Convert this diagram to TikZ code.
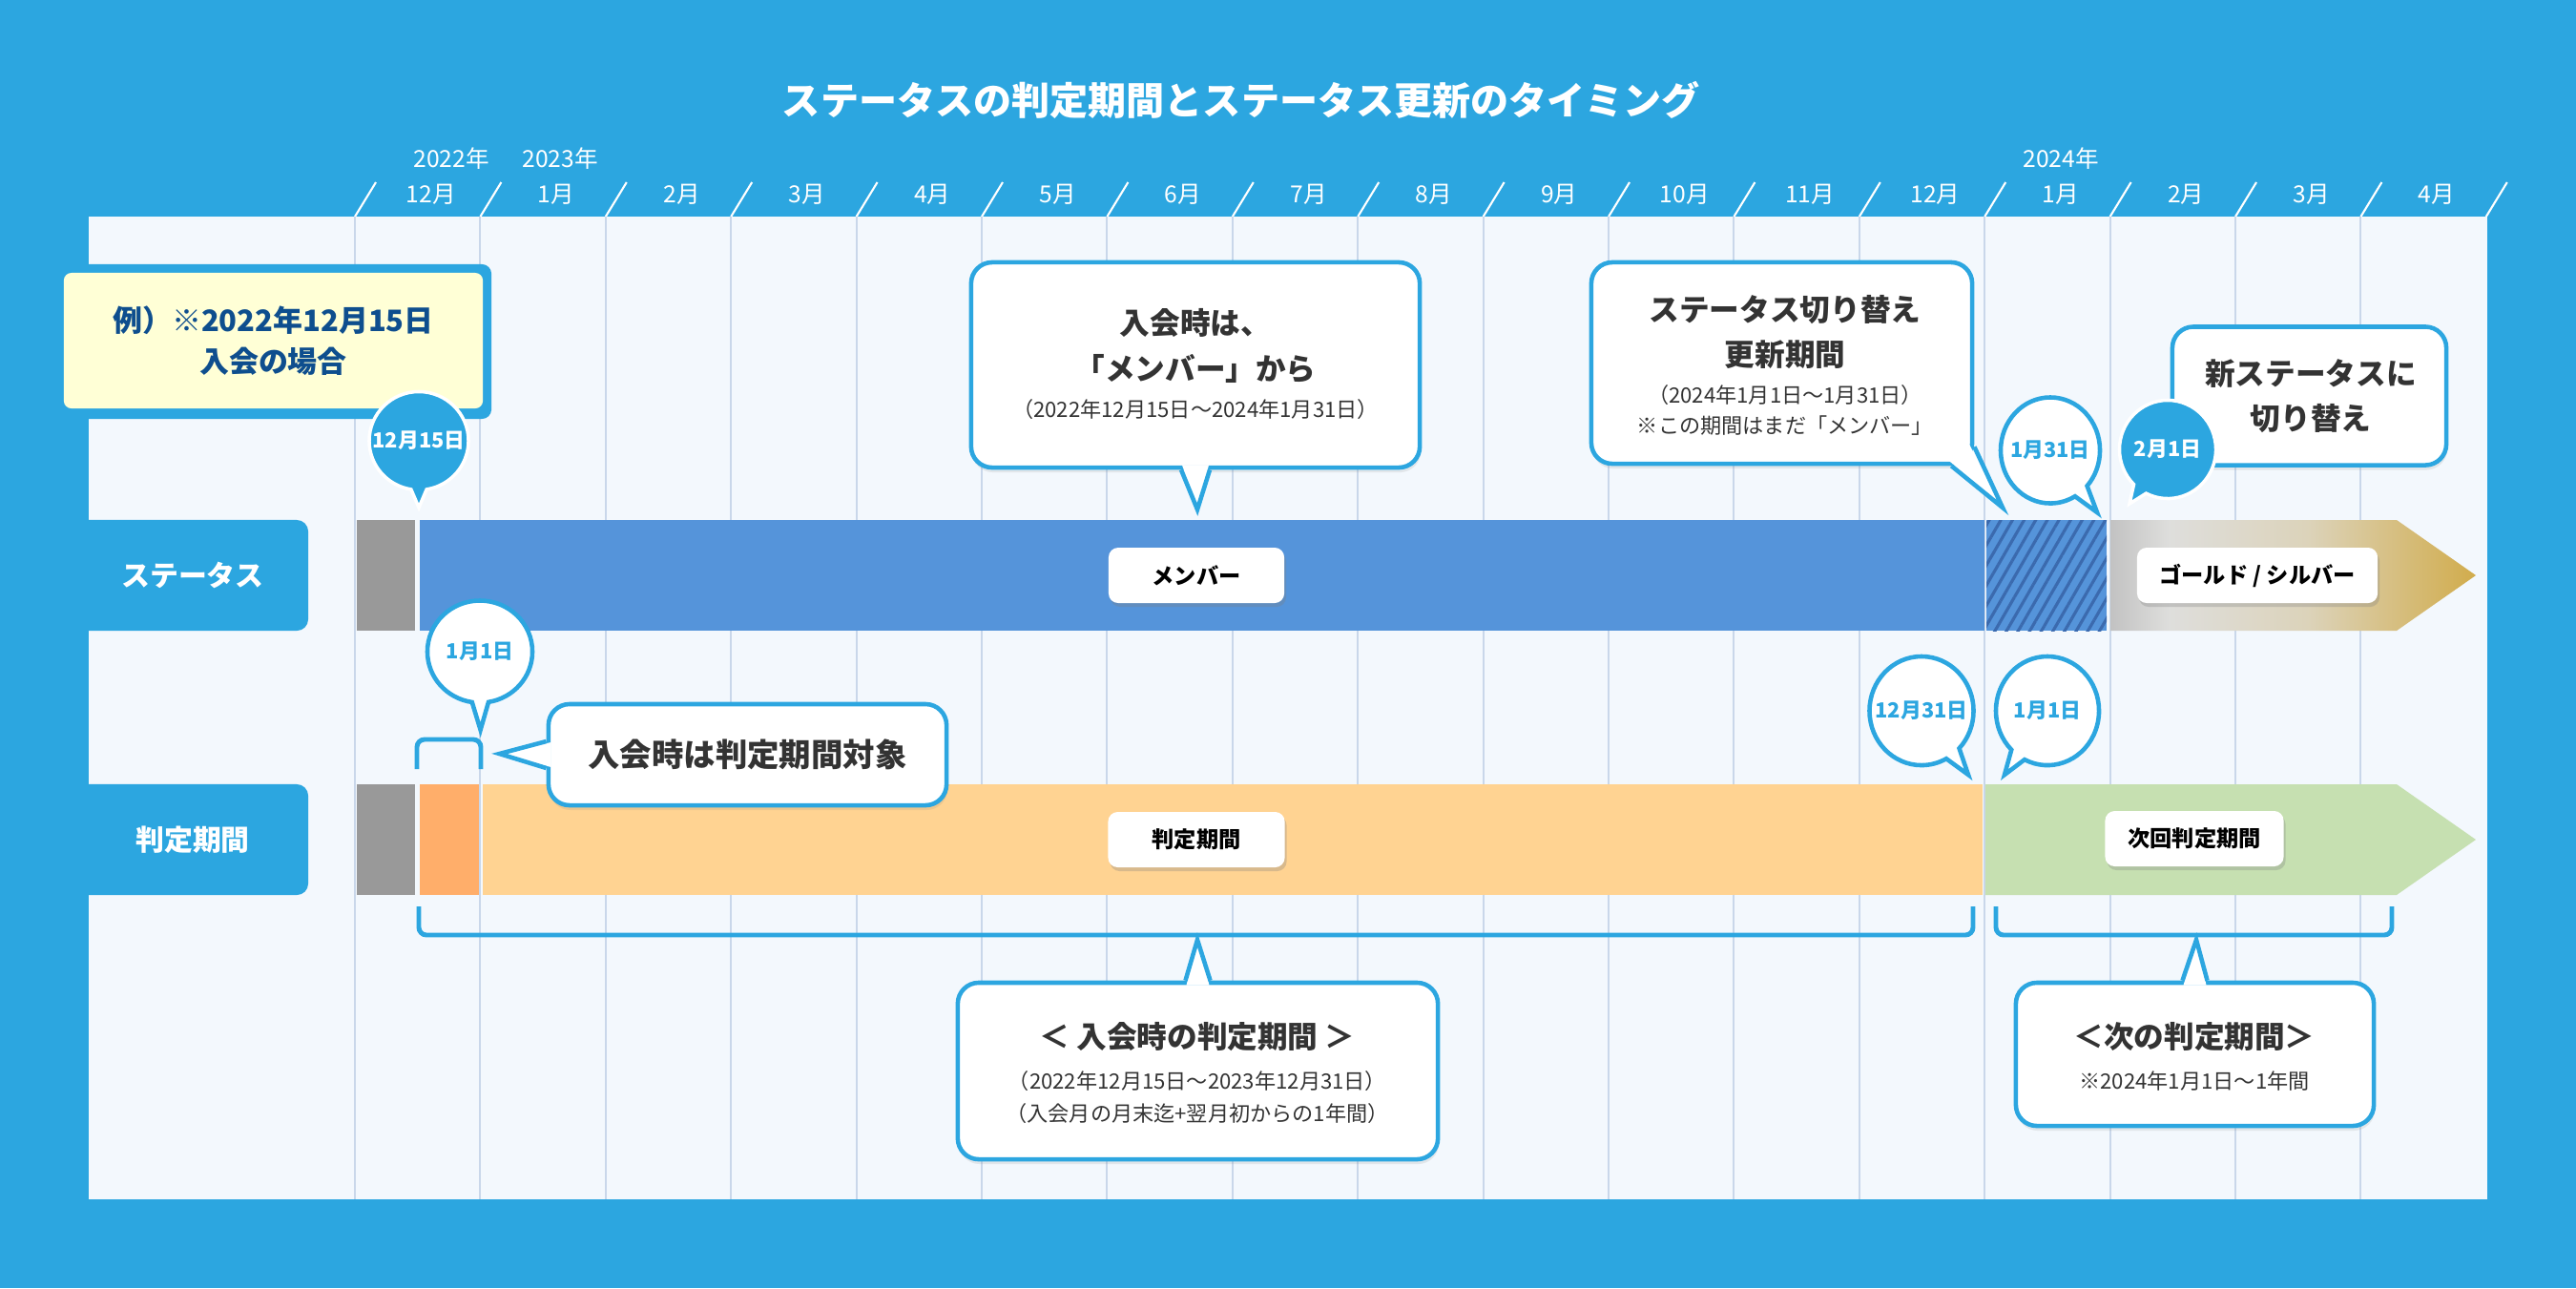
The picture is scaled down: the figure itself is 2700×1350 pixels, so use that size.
\documentclass[tikz,border=0pt]{standalone}
\usepackage{fontspec}
\setmainfont{Noto Sans CJK JP}
\usetikzlibrary{shapes.callouts,shadows,patterns.meta}

\definecolor{bgblue}{HTML}{2CA6E0}
\definecolor{panelbg}{HTML}{F3F8FD}
\definecolor{gridc}{HTML}{C9D7EA}
\definecolor{graybar}{HTML}{999999}
\definecolor{memblue}{HTML}{5594DA}
\definecolor{hatchc}{HTML}{3B6AAE}
\definecolor{orng}{HTML}{FFAE6A}
\definecolor{lorng}{HTML}{FFD392}
\definecolor{lgreen}{HTML}{C6E0B1}
\definecolor{txtdark}{HTML}{333333}
\definecolor{exyellow}{HTML}{FFFFD6}
\definecolor{exblue}{HTML}{0E4E8E}
\definecolor{gsila}{HTML}{C2C2C2}
\definecolor{gsilb}{HTML}{DEDEDC}
\definecolor{gsilc}{HTML}{DCD3BA}
\definecolor{ggold}{HTML}{D1AC4C}

\pgfdeclarehorizontalshading{goldsilver}{100bp}{color(0bp)=(gsila); color(25bp)=(gsila); color(33bp)=(gsilb); color(52bp)=(gsilc); color(75bp)=(ggold); color(100bp)=(ggold)}

\tikzset{
  gridline/.style={gridc, line width=0.6pt},
  slash/.style={white, line width=0.6pt},
  ttl/.style={text=white, font=\bfseries\fontsize{11.4}{13}\selectfont, inner sep=0pt},
  monlbl/.style={text=white, font=\fontsize{7}{8}\selectfont, inner sep=0pt},
  tab/.style={fill=bgblue, rounded corners=0.12cm, text=white, font=\bfseries\fontsize{8.5}{10}\selectfont, minimum width=2.42cm, minimum height=1.16cm},
  barlbl/.style={fill=white, rounded corners=0.1cm, font=\bfseries\fontsize{6.6}{8}\selectfont, text=black, minimum height=0.58cm, drop shadow={shadow xshift=0.02cm, shadow yshift=-0.04cm, opacity=0.3}},
  callbox/.style={fill=white, draw=bgblue, line width=1.3pt, rounded corners=0.22cm, drop shadow={shadow xshift=0.01cm, shadow yshift=-0.05cm, opacity=0.15}},
  tailline/.style={draw=bgblue, line width=1.3pt},
  bigtxt/.style={text=txtdark, font=\bfseries\fontsize{9}{13.4}\selectfont, align=center, inner sep=0pt},
  smalltxt/.style={text=txtdark, font=\fontsize{6.3}{9.2}\selectfont, align=center, inner sep=0pt},
  pinfull/.style={ellipse callout, fill=bgblue, draw=white, line width=1pt, text=white, font=\bfseries\fontsize{6.2}{7}\selectfont, inner xsep=-0.2cm, inner ysep=0pt, callout pointer arc=18},
  pinline/.style={ellipse callout, fill=white, draw=bgblue, line width=1.3pt, text=bgblue, font=\bfseries\fontsize{6.2}{7}\selectfont, inner xsep=-0.2cm, inner ysep=0pt, callout pointer arc=18},
  brace/.style={bgblue, line width=1.4pt, rounded corners=0.08cm},
}

\begin{document}
\begin{tikzpicture}[x=0.01cm, y=-0.01cm]
    \useasboundingbox (0,0) rectangle (2700,1350);
    \fill[bgblue] (0,0) rectangle (2700,1350);
    \fill[panelbg] (93,227) rectangle (2607,1257);

    \foreach \k in {0,...,17} {
        \pgfmathsetmacro{\gx}{372+131.4*\k}
        \draw[slash] (\gx,227) -- (\gx+22,191);
    }
    \foreach \k in {0,...,16} {
        \pgfmathsetmacro{\gx}{372+131.4*\k}
        \draw[gridline] (\gx,227) -- (\gx,1257);
    }

    \node (title) at (1301,105) [ttl] {ステータスの判定期間とステータス更新のタイミング};

    \node (y2022) at (473,166) [monlbl] {2022年};
    \node (y2023) at (587,166) [monlbl] {2023年};
    \node (y2024) at (2160,166) [monlbl] {2024年};

    \node (mdec22) at (451.7,204) [monlbl] {12月};
    \node (mjan23) at (583.1,204) [monlbl] {1月};
    \node (mfeb23) at (714.5,204) [monlbl] {2月};
    \node (mmar23) at (845.9,204) [monlbl] {3月};
    \node (mapr23) at (977.3,204) [monlbl] {4月};
    \node (mmay23) at (1108.7,204) [monlbl] {5月};
    \node (mjun23) at (1240.1,204) [monlbl] {6月};
    \node (mjul23) at (1371.5,204) [monlbl] {7月};
    \node (maug23) at (1502.9,204) [monlbl] {8月};
    \node (msep23) at (1634.3,204) [monlbl] {9月};
    \node (moct23) at (1765.7,204) [monlbl] {10月};
    \node (mnov23) at (1897.1,204) [monlbl] {11月};
    \node (mdec23) at (2028.5,204) [monlbl] {12月};
    \node (mjan24) at (2159.9,204) [monlbl] {1月};
    \node (mfeb24) at (2291.3,204) [monlbl] {2月};
    \node (mmar24) at (2422.7,204) [monlbl] {3月};
    \node (mapr24) at (2554.1,204) [monlbl] {4月};

    \fill[graybar] (374,545) rectangle (435,661);
    \fill[memblue] (440,545) rectangle (2080,661);
    \fill[memblue] (2082,545) rectangle (2208,661);
    \fill[pattern={Lines[angle=60,distance=3pt,line width=0.9pt]}, pattern color=hatchc] (2082,545) rectangle (2208,661);
    \shade[shading=goldsilver] (2212,545) -- (2512,545) -- (2595,603) -- (2512,661) -- (2212,661) -- cycle;

    \fill[graybar] (374,822) rectangle (435,938);
    \fill[orng] (440,822) rectangle (502,938);
    \fill[lorng] (506,822) rectangle (2078,938);
    \fill[lgreen] (2081,822) -- (2512,822) -- (2595,880) -- (2512,938) -- (2081,938) -- cycle;

    \node (lblMember) at (1254,603) [barlbl, minimum width=1.84cm] {メンバー};
    \node (lblRank) at (2366,603) [barlbl, minimum width=2.52cm] {ゴールド / シルバー};
    \node (lblJudge) at (1254,880) [barlbl, minimum width=1.85cm] {判定期間};
    \node (lblNext) at (2300,879) [barlbl, minimum width=1.87cm] {次回判定期間};

    \node (rowStatus) at (202,603) [tab] {ステータス};
    \node (rowJudge) at (202,880) [tab] {判定期間};

    \node (exFrame) at (286,358) [fill=bgblue, rounded corners=0.1cm, minimum width=4.58cm, minimum height=1.62cm] {};
    \node (exBox) at (286.5,357) [fill=exyellow, rounded corners=0.08cm, minimum width=4.39cm, minimum height=1.42cm, text=exblue, font=\bfseries\fontsize{8.8}{12.1}\selectfont, align=center] {例）※2022年12月15日\\入会の場合};
    \node (pin1215) at (439,462) [pinfull, minimum width=1.04cm, minimum height=1.03cm, callout absolute pointer={(439,532)}] {12月15日};

    \node (cJoin) at (1253,382.5) [callbox, minimum width=4.7cm, minimum height=2.15cm] {};
    \coordinate (tipJoin) at (1255,534);
    \fill[white] ([xshift=-0.14cm,yshift=0.05cm]cJoin.south) -- (tipJoin) -- ([xshift=0.14cm,yshift=0.05cm]cJoin.south) -- cycle;
    \draw[tailline] ([xshift=-0.15cm]cJoin.south) -- (tipJoin) -- ([xshift=0.15cm]cJoin.south);
    \node (tJoin) at (1253,362.5) [bigtxt] {入会時は、\\「メンバー」から};
    \node (sJoin) at (1253,428.6) [smalltxt] {（2022年12月15日～2024年1月31日）};

    \node (cSwitch) at (1867.5,380.5) [callbox, minimum width=3.99cm, minimum height=2.11cm] {};
    \coordinate (tipSwitch) at (2099,532);
    \fill[white] ([xshift=-0.26cm,yshift=0.05cm]cSwitch.south east) -- (tipSwitch) -- ([xshift=-0.05cm,yshift=0.22cm]cSwitch.south east) -- ([xshift=-0.3cm,yshift=0.3cm]cSwitch.south east) -- cycle;
    \draw[tailline] ([xshift=-0.24cm]cSwitch.south east) -- (tipSwitch) -- ([yshift=0.2cm]cSwitch.south east);
    \node (tSwitch) at (1871,348) [bigtxt] {ステータス切り替え\\更新期間};
    \node (sSwitch) at (1871,430) [smalltxt] {（2024年1月1日～1月31日）\\※この期間はまだ「メンバー」};

    \node (cNew) at (2420.5,415) [callbox, minimum width=2.87cm, minimum height=1.45cm] {};
    \node (tNew) at (2422,415) [bigtxt] {新ステータスに\\切り替え};

    \node (pin0131) at (2149,472) [pinline, minimum width=1.04cm, minimum height=1.11cm, callout absolute pointer={(2198,537)}] {1月31日};
    \node (pin0201) at (2272,471) [pinfull, minimum width=1.01cm, minimum height=1.03cm, callout absolute pointer={(2232,528)}] {2月1日};

    \draw[brace] (437,806) -- (437,775) -- (504,775) -- (504,806);
    \node (pin0101a) at (503,683) [pinline, minimum width=1.10cm, minimum height=1.07cm, callout absolute pointer={(503.6,765)}] {1月1日};

    \node (cTarget) at (783.5,791) [callbox, minimum width=4.17cm, minimum height=1.06cm] {};
    \coordinate (tipTarget) at (523.5,790);
    \fill[white] ([xshift=0.05cm,yshift=0.13cm]cTarget.west) -- (tipTarget) -- ([xshift=0.05cm,yshift=-0.13cm]cTarget.west) -- cycle;
    \draw[tailline] ([yshift=0.14cm]cTarget.west) -- (tipTarget) -- ([yshift=-0.14cm]cTarget.west);
    \node (tTarget) at (783.5,791) [bigtxt, font=\bfseries\fontsize{9.5}{12}\selectfont] {入会時は判定期間対象};

    \node (pin1231) at (2014,745) [pinline, minimum width=1.09cm, minimum height=1.14cm, callout absolute pointer={(2063,812)}] {12月31日};
    \node (pin0101b) at (2146,745) [pinline, minimum width=1.08cm, minimum height=1.14cm, callout absolute pointer={(2101,812)}] {1月1日};

    \draw[brace] (439,950) -- (439,980) -- (2068,980) -- (2068,950);
    \draw[brace] (2092,950) -- (2092,980) -- (2507,980) -- (2507,950);

    \node (cFirst) at (1255.5,1122.5) [callbox, minimum width=5.03cm, minimum height=1.85cm] {};
    \coordinate (tipFirst) at (1255,985);
    \fill[white] ([xshift=-0.12cm,yshift=-0.05cm]cFirst.north) -- (tipFirst) -- ([xshift=0.12cm,yshift=-0.05cm]cFirst.north) -- cycle;
    \draw[tailline] ([xshift=-0.13cm]cFirst.north) -- (tipFirst) -- ([xshift=0.13cm]cFirst.north);
    \node (tFirst) at (1255,1087) [bigtxt] {＜ 入会時の判定期間 ＞};
    \node (sFirst) at (1255,1150) [smalltxt, font=\fontsize{6.3}{9.7}\selectfont] {（2022年12月15日～2023年12月31日）\\（入会月の月末迄+翌月初からの1年間）};

    \node (cNext) at (2300.5,1105) [callbox, minimum width=3.75cm, minimum height=1.5cm] {};
    \coordinate (tipNext) at (2302,985);
    \fill[white] ([xshift=-0.12cm,yshift=-0.05cm]cNext.north) -- (tipNext) -- ([xshift=0.12cm,yshift=-0.05cm]cNext.north) -- cycle;
    \draw[tailline] ([xshift=-0.13cm]cNext.north) -- (tipNext) -- ([xshift=0.13cm]cNext.north);
    \node (tNext) at (2300,1087) [bigtxt] {＜次の判定期間＞};
    \node (sNext) at (2300,1133) [smalltxt] {※2024年1月1日～1年間};
\end{tikzpicture}
\end{document}
